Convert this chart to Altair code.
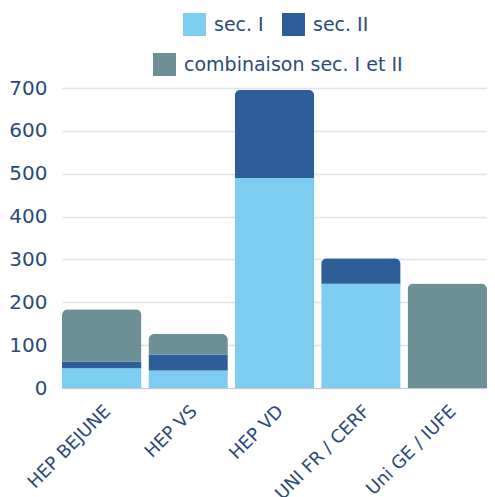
import altair as alt
import pandas as pd

schools = ["HEP BEJUNE", "HEP VS", "HEP VD", "UNI FR / CERF", "Uni GE / IUFE"]
cats = ["sec. I", "sec. II", "combinaison sec. I et II"]
sec1 = [46, 41, 490, 243, 0]
sec2 = [16, 37, 206, 60, 0]
combo = [122, 48, 0, 0, 244]
colors = ["#7dcdf1", "#2e5e99", "#6d9096"]
TEXT = "#2c4a77"
FONT = "DejaVu Sans"

rows = []
for i, s in enumerate(schools):
    for j, (c, vals) in enumerate(zip(cats, [sec1, sec2, combo])):
        if vals[i] > 0:
            rows.append({"school": s, "cat": c, "value": vals[i], "ord": j})
df = pd.DataFrame(rows)

x = alt.X("school:N", sort=schools, title=None,
          scale=alt.Scale(paddingInner=0.08, paddingOuter=0),
          axis=alt.Axis(labelAngle=-45, labelFontSize=18, labelColor=TEXT, labelFont=FONT,
                        ticks=False, domainColor="#c8ccd2", labelPadding=14))
y = alt.Y("value:Q", stack="zero", title=None,
          scale=alt.Scale(domain=[0, 700]),
          axis=alt.Axis(values=[0, 100, 200, 300, 400, 500, 600, 700], labelFontSize=20,
                        labelColor=TEXT, labelFont=FONT, ticks=False, domain=False,
                        gridColor="#dde3ea", gridWidth=1.5, labelPadding=15))

bars = alt.Chart(df).mark_bar(cornerRadiusTopLeft=6, cornerRadiusTopRight=6).encode(
    x=x, y=y,
    color=alt.Color("cat:N", scale=alt.Scale(domain=cats, range=colors),
                    legend=alt.Legend(title=None, values=["sec. I", "sec. II"], orient="none",
                                      legendX=121, legendY=-75, direction="horizontal",
                                      symbolType="square", symbolSize=529, symbolStrokeWidth=0,
                                      labelFontSize=19, labelColor=TEXT, labelFont=FONT,
                                      columnPadding=18, labelOffset=8)),
    order=alt.Order("ord:Q"),
)

leg2 = alt.Chart(df).transform_filter(alt.datum.ord == 2).mark_point(opacity=0, filled=True).encode(
    x=x, y=alt.Y("value:Q", title=None),
    fill=alt.Fill("cat:N", scale=alt.Scale(domain=[cats[2]], range=[colors[2]]),
                  legend=alt.Legend(title=None, orient="none", legendX=91, legendY=-35,
                                    symbolType="square", symbolSize=529, symbolOpacity=1,
                                    symbolStrokeWidth=0, labelLimit=400, labelOffset=8,
                                    labelFontSize=19, labelColor=TEXT, labelFont=FONT)),
)

chart = alt.layer(bars, leg2).properties(
    width=425, height=300,
    padding={"left": 0, "top": 5, "right": 0, "bottom": 0},
).configure_view(stroke=None)

chart.save("out.html", embed_options={"renderer": "svg", "actions": False})
